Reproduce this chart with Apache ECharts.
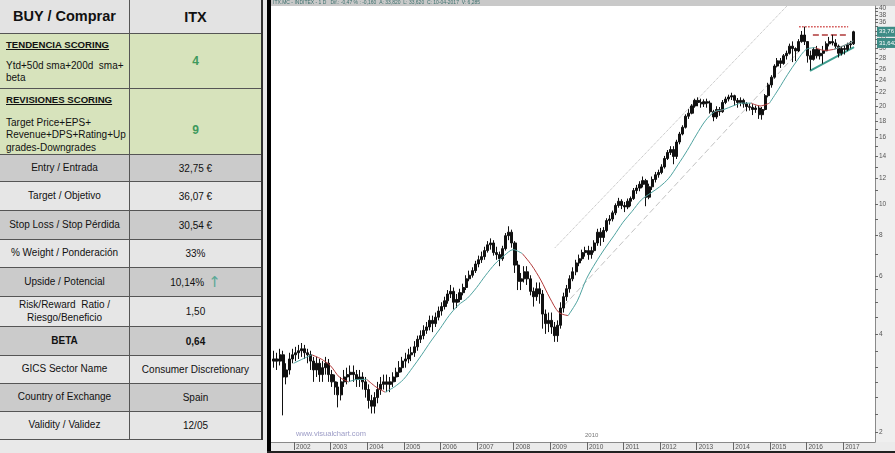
<!DOCTYPE html>
<html>
<head>
<meta charset="utf-8">
<script src="https://cdn.jsdelivr.net/npm/echarts@6/dist/echarts.min.js"></script>
<style>
html,body{margin:0;padding:0;width:895px;height:453px;overflow:hidden;background:#e9e9e9;font-family:"Liberation Sans",Arial,sans-serif;}
#chart{position:absolute;left:0;top:0;width:895px;height:453px;}
#tbl{position:absolute;left:0;top:0;width:263px;height:440px;background:#fff;border-right:2px solid #333;box-sizing:border-box;}
.row{position:absolute;left:0;width:261px;border-bottom:1px solid #555;box-sizing:border-box;}
.c1{position:absolute;left:0;top:0;width:130px;height:100%;border-right:1px solid #555;box-sizing:border-box;display:flex;align-items:center;justify-content:center;text-align:center;font-size:10px;color:#111;line-height:12.5px;}
.c2{position:absolute;left:130px;top:0;width:131px;height:100%;box-sizing:border-box;display:flex;align-items:center;justify-content:center;text-align:center;font-size:10px;color:#111;}
.hd{font-weight:bold;text-decoration:underline;position:absolute;left:6px;top:5px;font-size:9.6px;text-align:left;}
.bd{position:absolute;left:6px;text-align:left;font-size:10px;line-height:12.4px;white-space:pre;}
#border{position:absolute;left:267px;top:0;width:4px;height:453px;background:#000;}
#bottomline{position:absolute;left:267px;top:451px;width:628px;height:2px;background:#222;}
</style>
</head>
<body>
<div id="chart"></div>
<div id="tbl"></div>
<div id="border"></div>
<div id="bottomline"></div>
<script>
// ---------- table data ----------
const tableLabels = [
  'BUY / Comprar',
  'TENDENCIA SCORING',
  'REVISIONES SCORING',
  'Entry / Entrada',
  'Target / Objetivo',
  'Stop Loss / Stop Pérdida',
  '% Weight / Ponderación',
  'Upside / Potencial',
  'Risk/Reward  Ratio /\nRiesgo/Beneficio',
  'BETA',
  'GICS Sector Name',
  'Country of Exchange',
  'Validity / Validez'
];
const tableNotes = ['', 'Ytd+50d sma+200d  sma+\nbeta', 'Target Price+EPS+\nRevenue+DPS+Rating+Up\ngrades-Downgrades'];
const tableValues = ['ITX', '4', '9', '32,75 €', '36,07 €', '30,54 €', '33%', '10,14%', '1,50', '0,64', 'Consumer Discretionary', 'Spain', '12/05'];

// ---------- price data (monthly bars, first bar = Jun 2001) ----------
const firstMonth = [2001, 6];
const firstOpen = 3.30;
const closeValues = [
  3.35, 3.30, 3.45, 2.95, 3.10, 3.35, 3.45,
  3.50, 3.55, 3.60, 3.50, 3.45, 3.30, 3.10, 3.25, 3.00, 3.15, 3.25, 3.00,
  2.85, 2.75, 2.60, 2.85, 2.95, 3.00, 3.05, 3.00, 2.90, 2.95, 2.85, 2.70,
  2.50, 2.40, 2.55, 2.70, 2.80, 2.85, 2.80, 2.85, 2.95, 3.05, 3.15, 3.30,
  3.35, 3.45, 3.50, 3.65, 3.85, 3.95, 4.10, 4.20, 4.40, 4.30, 4.50, 4.70,
  4.85, 5.05, 5.30, 5.40, 5.00, 5.10, 5.35, 5.55, 5.90, 6.05, 6.25, 6.55,
  6.75, 6.90, 7.20, 7.50, 7.60, 7.10, 7.00, 6.80, 7.30, 8.00, 8.20, 7.60,
  6.50, 5.80, 5.90, 6.20, 5.90, 5.40, 5.20, 5.50, 5.30, 4.60, 4.30, 4.40,
  4.20, 3.95, 4.25, 4.80, 5.20, 5.50, 5.90, 6.20, 6.60, 6.80, 7.10, 7.20,
  7.00, 7.20, 7.60, 8.20, 7.90, 8.30, 8.90, 9.00, 9.40, 9.90, 10.20, 9.90,
  9.80, 10.20, 10.40, 11.00, 11.20, 11.50, 11.80, 10.50, 11.30, 11.90, 12.30, 12.50,
  13.00, 13.80, 14.40, 14.70, 14.00, 15.50, 16.40, 17.20, 18.60, 19.00, 20.00, 20.80,
  20.50, 20.30, 20.60, 20.40, 19.20, 18.50, 19.50, 19.20, 20.50, 21.00, 21.30, 21.50,
  20.80, 20.50, 20.80, 20.30, 19.90, 19.80, 19.50, 19.70, 18.80, 19.50, 21.50, 23.20,
  24.50, 26.50, 27.50, 27.00, 28.50, 29.00, 30.50, 30.00, 29.50, 31.50, 33.00, 31.50,
  28.50, 27.80, 29.80, 28.50, 29.00, 29.50, 31.00, 31.50, 31.20, 30.50, 29.00, 30.00,
  29.80, 30.80, 31.00, 33.76
];
const highValues = [
  3.55, 3.50, 3.60, 3.55, 3.25, 3.50, 3.60,
  3.65, 3.70, 3.75, 3.70, 3.60, 3.55, 3.40, 3.40, 3.35, 3.30, 3.40, 3.35,
  3.10, 3.00, 2.85, 2.95, 3.10, 3.15, 3.20, 3.20, 3.10, 3.10, 3.05, 2.95,
  2.80, 2.60, 2.65, 2.85, 2.95, 3.00, 3.00, 2.95, 3.05, 3.15, 3.30, 3.40,
  3.50, 3.60, 3.65, 3.80, 3.95, 4.10, 4.25, 4.35, 4.55, 4.55, 4.65, 4.85,
  5.00, 5.20, 5.45, 5.65, 5.55, 5.30, 5.50, 5.70, 6.05, 6.25, 6.40, 6.70,
  6.95, 7.15, 7.40, 7.70, 7.85, 7.75, 7.40, 7.15, 7.45, 8.15, 8.55, 8.35,
  7.70, 6.70, 6.15, 6.45, 6.45, 6.05, 5.55, 5.75, 5.75, 5.45, 4.75, 4.65,
  4.65, 4.35, 4.40, 5.00, 5.35, 5.65, 6.05, 6.40, 6.75, 7.00, 7.25, 7.40,
  7.45, 7.40, 7.75, 8.40, 8.45, 8.50, 9.05, 9.25, 9.55, 10.05, 10.45, 10.35,
  10.15, 10.40, 10.55, 11.20, 11.45, 11.75, 12.15, 11.95, 11.55, 12.15, 12.55, 12.75,
  13.25, 14.05, 14.65, 15.05, 15.05, 15.75, 16.65, 17.45, 18.85, 19.55, 20.25, 21.05,
  21.25, 21.05, 20.95, 21.05, 20.75, 19.45, 19.95, 19.85, 20.85, 21.35, 21.65, 21.95,
  21.65, 21.15, 21.25, 21.05, 20.55, 20.35, 20.25, 20.05, 20.05, 19.85, 21.75, 23.55,
  24.85, 26.85, 28.05, 28.05, 28.85, 29.55, 31.05, 31.55, 30.25, 32.05, 33.95, 35.00,
  31.55, 29.55, 30.25, 30.55, 29.85, 30.55, 31.55, 32.55, 33.05, 32.05, 30.85, 30.55,
  30.55, 31.25, 31.65, 34.00
];
const lowValues = [
  3.15, 3.10, 3.20, 2.25, 2.80, 3.00, 3.25,
  3.30, 3.35, 3.40, 3.35, 3.25, 3.10, 2.85, 2.95, 2.85, 2.85, 3.00, 2.85,
  2.75, 2.60, 2.38, 2.50, 2.75, 2.80, 2.85, 2.85, 2.75, 2.75, 2.70, 2.55,
  2.36, 2.28, 2.28, 2.45, 2.60, 2.70, 2.65, 2.65, 2.75, 2.85, 2.95, 3.05,
  3.15, 3.25, 3.30, 3.40, 3.55, 3.75, 3.85, 4.00, 4.10, 4.05, 4.20, 4.40,
  4.55, 4.75, 4.95, 5.15, 4.75, 4.80, 5.00, 5.25, 5.45, 5.80, 5.95, 6.15,
  6.40, 6.60, 6.75, 7.10, 7.25, 6.95, 6.75, 6.45, 6.70, 7.20, 7.75, 7.35,
  6.15, 5.45, 5.45, 5.75, 5.65, 5.25, 4.85, 5.05, 4.95, 4.15, 4.00, 4.05,
  4.00, 3.78, 3.78, 4.15, 4.65, 5.05, 5.35, 5.80, 6.05, 6.45, 6.70, 6.90,
  6.75, 6.80, 7.10, 7.45, 7.45, 7.65, 8.20, 8.65, 8.85, 9.25, 9.75, 9.65,
  9.45, 9.65, 9.85, 10.30, 10.75, 10.95, 11.25, 9.85, 10.35, 11.05, 11.65, 12.05,
  12.35, 12.85, 13.65, 14.15, 13.25, 13.75, 15.25, 16.25, 17.05, 18.25, 18.85, 19.75,
  19.95, 19.75, 19.85, 19.75, 18.95, 17.95, 18.25, 18.65, 19.05, 20.25, 20.65, 20.85,
  20.05, 19.75, 19.95, 19.75, 19.25, 19.35, 18.75, 19.05, 18.25, 18.15, 19.35, 21.25,
  22.75, 24.25, 26.25, 26.15, 26.75, 27.75, 28.75, 27.25, 27.45, 29.25, 31.25, 30.75,
  27.15, 25.75, 27.55, 27.95, 27.75, 26.95, 29.45, 30.45, 30.65, 29.95, 28.15, 28.55,
  28.75, 29.45, 30.05, 30.75
];

// ---------- moving average (read at quarter ends) ----------
const maDates = [
  '2001-12-28','2002-03-28','2002-06-28','2002-09-28','2002-12-28','2003-03-28','2003-06-28','2003-09-28','2003-12-28',
  '2004-03-28','2004-06-28','2004-09-28','2004-12-28','2005-03-28','2005-06-28','2005-09-28','2005-12-28',
  '2006-03-28','2006-06-28','2006-09-28','2006-12-28','2007-03-28','2007-06-28','2007-09-28','2007-12-28',
  '2008-03-28','2008-06-28','2008-09-28','2008-12-28','2009-03-28','2009-06-28','2009-09-28','2009-12-28',
  '2010-03-28','2010-06-28','2010-09-28','2010-12-28','2011-03-28','2011-06-28','2011-09-28','2011-12-28',
  '2012-03-28','2012-06-28','2012-09-28','2012-12-28','2013-03-28','2013-06-28','2013-09-28','2013-12-28',
  '2014-03-28','2014-06-28','2014-09-28','2014-12-28','2015-03-28','2015-06-28','2015-09-28','2015-12-28',
  '2016-03-28','2016-06-28','2016-09-28','2016-12-28','2017-04-12'
];
const maValues = [
  3.25, 3.35, 3.45, 3.35, 3.20, 2.95, 2.85, 2.90, 2.90,
  2.75, 2.65, 2.75, 2.90, 3.15, 3.45, 3.80, 4.15,
  4.55, 4.90, 5.15, 5.55, 6.05, 6.55, 6.95, 7.25,
  7.05, 6.50, 5.85, 5.15, 4.65, 4.55, 5.05, 5.90,
  6.60, 7.30, 8.00, 8.80, 9.50, 10.30, 10.80, 11.30,
  12.00, 13.20, 14.60, 16.30, 18.00, 19.20, 19.50, 20.00,
  20.40, 20.40, 20.00, 20.40, 22.50, 25.00, 27.50, 29.80,
  30.20, 29.60, 29.80, 30.50, 31.642
];

// ---------- drawn trend lines [date, price] ----------
const upperChannel = [['2009-02-17', 7.35], ['2015-06-20', 40.5]];
const lowerChannel = [['2009-03-20', 4.67], ['2015-10-30', 29.7]];
const supportLine = [['2016-02-05', 25.6], ['2017-04-20', 30.3]];
const resistanceDotted = [['2015-10-20', 35.0], ['2017-02-20', 35.0]];
const resistanceDashed = [['2016-03-05', 33.0], ['2017-02-25', 33.0]];

// ---------- axis ticks / texts ----------
const priceLabels = [2,4,6,8,10,12,14,16,18,20,22,24,26,28,30,32,34,36,38,40];
const priceMinorTicks = [2.27,2.55,2.85,3.16,3.54,4.5,5,5.5,7,9,11,13,15,17,19,21,23,25,27,29,31,33,35,37,39];
const headerText = 'ITX.MC - INDITEX - 1 D   Dif.: -0,47 % : -0,160  A: 33,820  L: 33,620  C: 10-04-2017  V: 6,285';
const lastPriceLabel = '33,76';
const lastMaLabel = '31,642';

// ================= build table =================
const rowHeights = [34,55,66,27,29,29,28,29,30,29,28,28,28];
const rowBg = ['#e3e3e3','#d7e3bc','#d7e3bc','#cbcbcb','#e6e6e6','#cbcbcb','#e6e6e6','#cbcbcb','#e6e6e6','#cbcbcb','#e6e6e6','#cbcbcb','#e6e6e6'];
const tbl = document.getElementById('tbl');
let rowTop = 0;
tableLabels.forEach((lab, i) => {
  const r = document.createElement('div');
  r.className = 'row';
  r.style.top = rowTop + 'px';
  r.style.height = rowHeights[i] + 'px';
  r.style.background = rowBg[i];
  const c1 = document.createElement('div'); c1.className = 'c1';
  const c2 = document.createElement('div'); c2.className = 'c2';
  if (i === 0) {
    c1.style.fontWeight = 'bold'; c1.style.fontSize = '14.5px';
    c2.style.fontWeight = 'bold'; c2.style.fontSize = '14.5px';
    c1.textContent = lab; c2.textContent = tableValues[i];
  } else if (i === 1 || i === 2) {
    const h = document.createElement('div'); h.className = 'hd'; h.textContent = lab; c1.appendChild(h);
    const b = document.createElement('div'); b.className = 'bd'; b.textContent = tableNotes[i];
    b.style.top = (i === 1 ? 26 : 28) + 'px'; c1.appendChild(b);
    c2.style.fontWeight = 'bold'; c2.style.fontSize = '12px'; c2.style.color = '#3f9a5c';
    if (i === 2) c2.style.paddingTop = '16px';
    c2.textContent = tableValues[i];
  } else {
    c1.style.whiteSpace = 'pre';
    c1.textContent = lab;
    c2.textContent = tableValues[i];
    if (i === 9) { c1.style.fontWeight = 'bold'; c2.style.fontWeight = 'bold'; }
    if (i === 7) {
      const a = document.createElement('span');
      a.textContent = '↑'; a.style.color = '#5aa896'; a.style.fontSize = '15px';
      a.style.marginLeft = '4px'; a.style.fontFamily = '"DejaVu Sans", sans-serif';
      c2.appendChild(a);
    }
  }
  r.appendChild(c1); r.appendChild(c2);
  tbl.appendChild(r);
  rowTop += rowHeights[i];
});

// ================= build chart data =================
const monthDates = closeValues.map((_, i) => {
  const k = firstMonth[1] - 1 + i;
  const y = firstMonth[0] + Math.floor(k / 12);
  const m = (k % 12) + 1;
  return y + '-' + String(m).padStart(2, '0') + '-15';
});
const candles = closeValues.map((c, i) => {
  const o = i === 0 ? firstOpen : closeValues[i - 1];
  return [monthDates[i], o, c, lowValues[i], highValues[i]];
});
function closeAtMonth(d) {
  const key = d.slice(0, 7);
  const idx = monthDates.findIndex(m => m.slice(0, 7) === key);
  return idx >= 0 ? closeValues[idx] : closeValues[closeValues.length - 1];
}
const above = maDates.map((d, i) => maValues[i] > closeAtMonth(d));
const maRed = maDates.map((d, i) => (above[i] || (i > 0 && above[i - 1])) ? [d, maValues[i]] : [d, null]);
const maTeal = maDates.map((d, i) => (!above[i] || (i > 0 && !above[i - 1])) ? [d, maValues[i]] : [d, null]);

const yMin = 1.864, yMax = 40.5;
const YEAR = 365 * 24 * 3600 * 1000;
const chart = echarts.init(document.getElementById('chart'), null, {renderer: 'canvas'});
const lineSeries = (name, data, color, width, type) => ({
  name, type: 'line', data, yAxisIndex: 0, symbol: 'none', silent: true, clip: true,
  lineStyle: {color, width, type}, z: 3
});
const smallFont = '"Liberation Sans Narrow", sans-serif';
chart.setOption({
  animation: false,
  backgroundColor: 'transparent',
  graphic: [
    {id: 'topbar', type: 'rect', shape: {x: 271, y: 0, width: 624, height: 6}, style: {fill: '#c9c9c9'}, silent: true},
    {id: 'rightstrip', type: 'rect', shape: {x: 875, y: 6, width: 20, height: 436}, style: {fill: '#efefef'}, silent: true, z: -10},
    {id: 'bottomstrip', type: 'rect', shape: {x: 271, y: 442, width: 624, height: 9}, style: {fill: '#ebebeb'}, silent: true, z: -10},
    {id: 'header', type: 'text', left: 273, top: 0, style: {text: headerText, font: '5px ' + smallFont, fill: '#3c6f6c'}, silent: true},
    {id: 'brand', type: 'text', left: 296, top: 430, style: {text: 'www.visualchart.com', font: '7.5px "Liberation Sans", sans-serif', fill: '#9c9cc6'}, silent: true},
    {id: 'y2010', type: 'text', left: 585, top: 432, style: {text: '2010', font: '6px ' + smallFont, fill: '#777'}, silent: true}
  ],
  grid: {left: 271, right: 20, top: 6, bottom: 11, show: true, backgroundColor: '#ffffff', borderWidth: 0},
  xAxis: {
    type: 'time', min: '2001-05-16', max: '2017-11-15',
    minInterval: YEAR, maxInterval: YEAR * 1.01,
    axisLine: {lineStyle: {color: '#8a8a8a', width: 1}},
    axisTick: {length: 8, lineStyle: {color: '#666'}},
    axisLabel: {formatter: v => String(new Date(v).getFullYear()), showMinLabel: false, showMaxLabel: false,
      align: 'left', padding: [0, 0, 0, 2], margin: 2, fontSize: 6.5, color: '#555', fontFamily: smallFont, fontWeight: 'normal'},
    splitLine: {show: false}
  },
  yAxis: [
    {type: 'log', logBase: 10, min: yMin, max: yMax, show: false, splitLine: {show: false}},
    {type: 'value', position: 'right', min: Math.log10(yMin), max: Math.log10(yMax),
      axisLine: {show: true, lineStyle: {color: '#8a8a8a'}},
      axisTick: {show: true, customValues: priceLabels.concat(priceMinorTicks).map(v => Math.log10(v)), length: 3, lineStyle: {color: '#666'}},
      axisLabel: {customValues: priceLabels.map(v => Math.log10(v)), formatter: v => String(Math.round(Math.pow(10, v))),
        margin: 4, fontSize: 6.5, color: '#555', fontFamily: smallFont},
      splitLine: {show: false}}
  ],
  series: [
    lineSeries('upperChannel', upperChannel, '#b5b5b5', 1, 'dotted'),
    lineSeries('lowerChannel', lowerChannel, '#c2c2c2', 1, [6, 3]),
    {
      name: 'ITX', type: 'candlestick', data: candles, yAxisIndex: 0, barWidth: 2.6, silent: true, z: 4,
      encode: {x: 0, y: [1, 2, 3, 4]},
      itemStyle: {color: '#111', color0: '#111', borderColor: '#111', borderColor0: '#111', borderWidth: 1}
    },
    Object.assign(lineSeries('maRed', maRed, '#b23a3a', 1, 'solid'), {smooth: 0.3, connectNulls: false, z: 5}),
    Object.assign(lineSeries('maTeal', maTeal, '#4fa3a0', 1, 'solid'), {smooth: 0.3, connectNulls: false, z: 5}),
    lineSeries('support', supportLine, '#3f9f90', 2, 'solid'),
    lineSeries('resDotted', resistanceDotted, '#d04848', 1.5, 'dotted'),
    lineSeries('resDashed', resistanceDashed, '#b03a3a', 1.5, [6, 3])
  ]
});

// value boxes on the price axis, positioned through the log axis
const yLast = chart.convertToPixel({yAxisIndex: 0}, closeValues[closeValues.length - 1]);
const yMa = chart.convertToPixel({yAxisIndex: 0}, maValues[maValues.length - 1]);
const boxStyle = (text, y) => ({
  type: 'text', x: 877, y: y, z: 50, silent: true,
  style: {text: text, font: '6px ' + smallFont, fill: '#ffffff', backgroundColor: '#3d8c86',
    padding: [2, 2, 2, 2], verticalAlign: 'middle', align: 'left'}
});
chart.setOption({graphic: [
  Object.assign({id: 'boxPrice'}, boxStyle(lastPriceLabel, yLast)),
  Object.assign({id: 'boxMa'}, boxStyle(lastMaLabel, yMa + 2))
]});
</script>
</body>
</html>
